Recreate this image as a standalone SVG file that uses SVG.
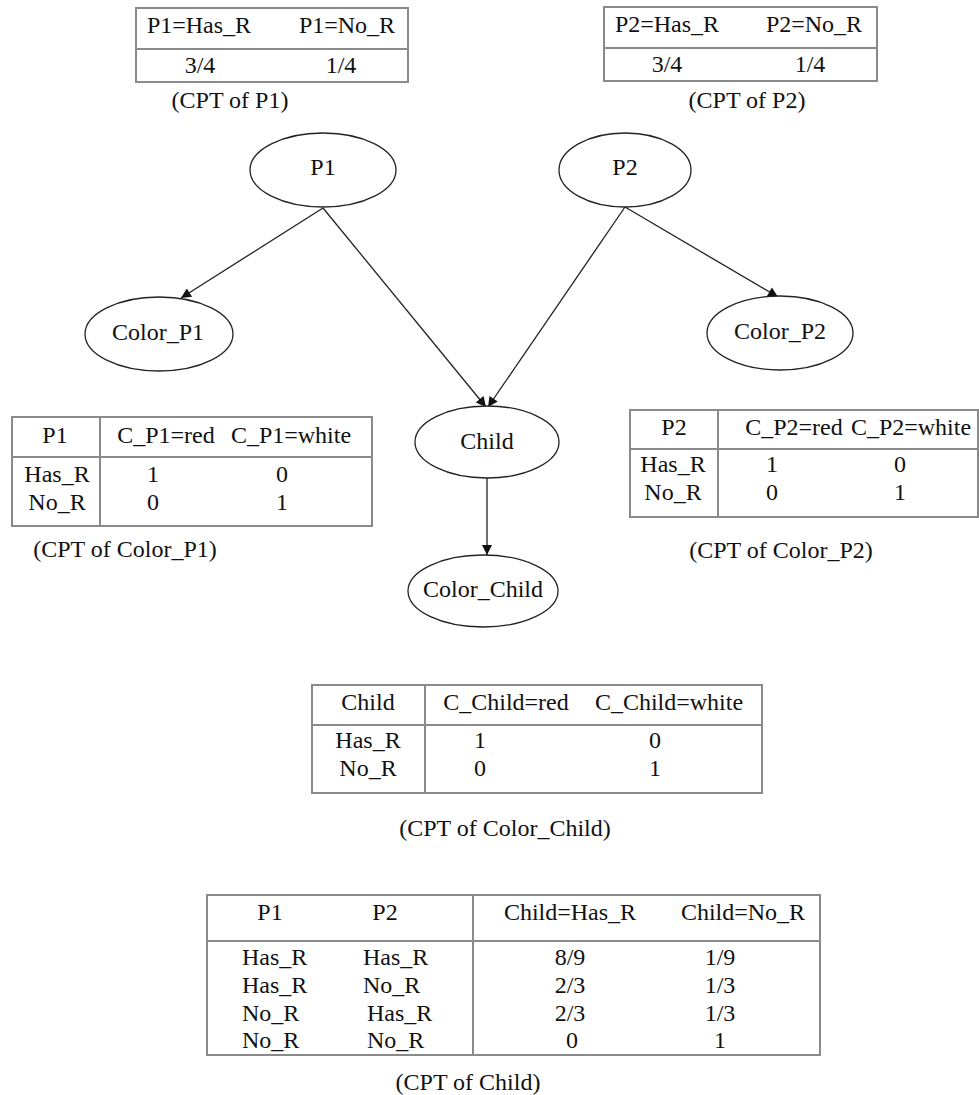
<svg xmlns="http://www.w3.org/2000/svg" width="979" height="1095" viewBox="0 0 979 1095" font-family="'Liberation Serif', 'DejaVu Serif', serif">
<style>
text{font-family:'Liberation Serif','DejaVu Serif',serif;font-size:24px;fill:#111}
.m{text-anchor:middle}
.tb{fill:none;stroke:#8a8a8a;stroke-width:2}
.nd{fill:#fff;stroke:#222;stroke-width:1.3}
.e{stroke:#222;stroke-width:1.3;fill:none;marker-end:url(#ah)}
</style>
<defs>
<marker id="ah" viewBox="0 0 10 10" refX="10" refY="5" markerUnits="userSpaceOnUse" markerWidth="13" markerHeight="10" orient="auto">
<path d="M0,0 L10,5 L0,10 z" fill="#111"/>
</marker>
</defs>
<rect width="979" height="1095" fill="#fff"/>

<g id="cpt-p1">
<rect class="tb" x="136" y="8" width="272" height="74"/>
<line class="tb" x1="136" y1="49" x2="408" y2="49"/>
<text class="m" x="199" y="33">P1=Has_R</text>
<text class="m" x="347" y="33">P1=No_R</text>
<text class="m" x="200" y="73">3/4</text>
<text class="m" x="341" y="73">1/4</text>
<text class="m" x="230" y="108">(CPT of P1)</text>
</g>

<g id="cpt-p2">
<rect class="tb" x="604" y="7" width="273" height="74"/>
<line class="tb" x1="604" y1="48" x2="877" y2="48"/>
<text class="m" x="667" y="32">P2=Has_R</text>
<text class="m" x="814" y="32">P2=No_R</text>
<text class="m" x="667" y="72">3/4</text>
<text class="m" x="810" y="72">1/4</text>
<text class="m" x="747" y="108">(CPT of P2)</text>
</g>

<g id="connectors">
<line class="e" x1="323" y1="208" x2="181" y2="298"/>
<line class="e" x1="323" y1="208" x2="486" y2="407"/>
<line class="e" x1="625" y1="207" x2="488" y2="407"/>
<line class="e" x1="625" y1="207" x2="778" y2="297"/>
<line class="e" x1="487" y1="478" x2="487" y2="555"/>
</g>

<g id="node-p1"><ellipse class="nd" cx="323" cy="170" rx="73" ry="37"/><text class="m" x="323" y="175">P1</text></g>
<g id="node-p2"><ellipse class="nd" cx="625" cy="170" rx="66" ry="37"/><text class="m" x="625" y="175">P2</text></g>
<g id="node-color-p1"><ellipse class="nd" cx="159" cy="334" rx="74" ry="37"/><text class="m" x="158" y="340">Color_P1</text></g>
<g id="node-color-p2"><ellipse class="nd" cx="780" cy="333" rx="73" ry="37"/><text class="m" x="780" y="339">Color_P2</text></g>
<g id="node-child"><ellipse class="nd" cx="487" cy="442" rx="72" ry="36"/><text class="m" x="487" y="449">Child</text></g>
<g id="node-color-child"><ellipse class="nd" cx="483" cy="591" rx="75" ry="36"/><text class="m" x="483" y="597">Color_Child</text></g>

<g id="cpt-color-p1">
<rect class="tb" x="12" y="417" width="360" height="109"/>
<line class="tb" x1="12" y1="457" x2="372" y2="457"/>
<line class="tb" x1="100" y1="417" x2="100" y2="526"/>
<text class="m" x="55" y="443">P1</text>
<text class="m" x="166" y="443">C_P1=red</text>
<text class="m" x="291" y="443">C_P1=white</text>
<text class="m" x="57" y="482">Has_R</text>
<text class="m" x="153" y="482">1</text>
<text class="m" x="282" y="482">0</text>
<text class="m" x="57" y="510">No_R</text>
<text class="m" x="153" y="510">0</text>
<text class="m" x="282" y="510">1</text>
<text class="m" x="125" y="557">(CPT of Color_P1)</text>
</g>

<g id="cpt-color-p2">
<rect class="tb" x="630" y="410" width="348" height="107"/>
<line class="tb" x1="630" y1="449" x2="978" y2="449"/>
<line class="tb" x1="718" y1="410" x2="718" y2="517"/>
<text class="m" x="674" y="435">P2</text>
<text class="m" x="794" y="435">C_P2=red</text>
<text class="m" x="911" y="435">C_P2=white</text>
<text class="m" x="673" y="472">Has_R</text>
<text class="m" x="772" y="472">1</text>
<text class="m" x="900" y="472">0</text>
<text class="m" x="673" y="500">No_R</text>
<text class="m" x="772" y="500">0</text>
<text class="m" x="900" y="500">1</text>
<text class="m" x="781" y="558">(CPT of Color_P2)</text>
</g>

<g id="cpt-color-child">
<rect class="tb" x="312" y="685" width="450" height="108"/>
<line class="tb" x1="312" y1="725" x2="762" y2="725"/>
<line class="tb" x1="425" y1="685" x2="425" y2="793"/>
<text class="m" x="368" y="710">Child</text>
<text class="m" x="506" y="710">C_Child=red</text>
<text class="m" x="669" y="710">C_Child=white</text>
<text class="m" x="368" y="748">Has_R</text>
<text class="m" x="480" y="748">1</text>
<text class="m" x="655" y="748">0</text>
<text class="m" x="368" y="776">No_R</text>
<text class="m" x="480" y="776">0</text>
<text class="m" x="655" y="776">1</text>
<text class="m" x="505" y="836">(CPT of Color_Child)</text>
</g>

<g id="cpt-child">
<rect class="tb" x="207" y="895" width="613" height="160"/>
<line class="tb" x1="207" y1="941" x2="820" y2="941"/>
<line class="tb" x1="473" y1="895" x2="473" y2="1055"/>
<text class="m" x="270" y="920">P1</text>
<text class="m" x="385" y="920">P2</text>
<text class="m" x="570" y="920">Child=Has_R</text>
<text class="m" x="743" y="920">Child=No_R</text>
<text x="242" y="965">Has_R</text><text x="363" y="965">Has_R</text>
<text class="m" x="570" y="965">8/9</text><text class="m" x="720" y="965">1/9</text>
<text x="242" y="993">Has_R</text><text x="363" y="993">No_R</text>
<text class="m" x="570" y="993">2/3</text><text class="m" x="720" y="993">1/3</text>
<text x="242" y="1021">No_R</text><text x="367" y="1021">Has_R</text>
<text class="m" x="570" y="1021">2/3</text><text class="m" x="720" y="1021">1/3</text>
<text x="242" y="1048">No_R</text><text x="367" y="1048">No_R</text>
<text class="m" x="572" y="1048">0</text><text class="m" x="720" y="1048">1</text>
<text class="m" x="468" y="1090">(CPT of Child)</text>
</g>
</svg>
